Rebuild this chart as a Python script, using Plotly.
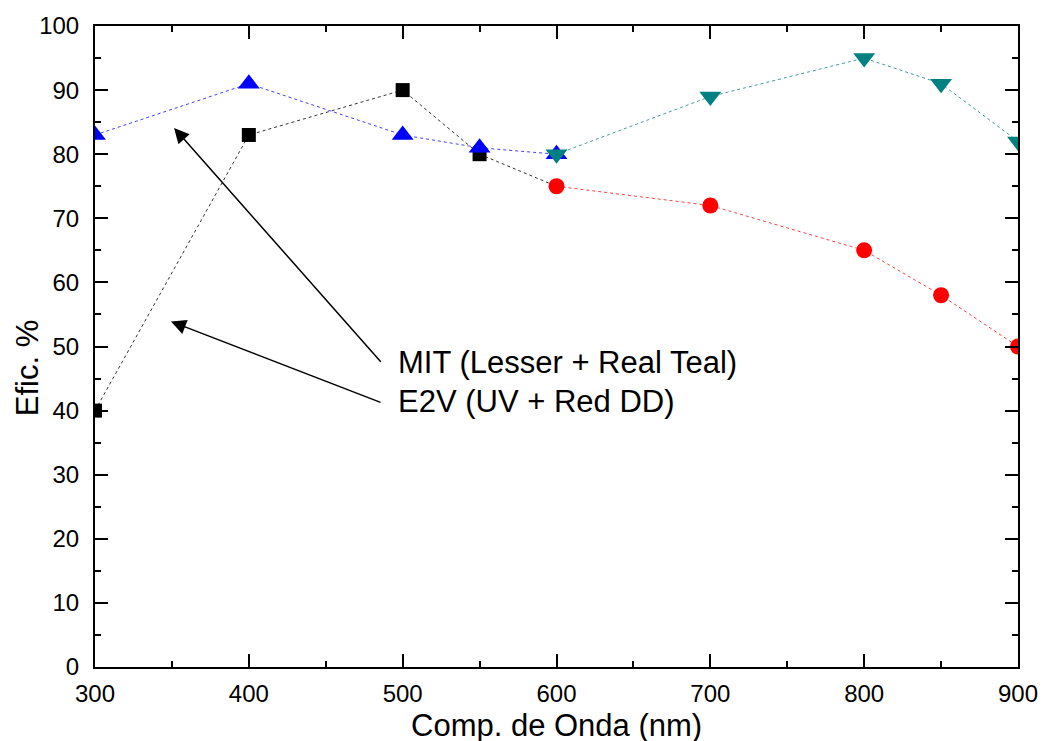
import plotly.graph_objects as go

# Data
e2v_uv_x = [300, 400, 500, 550, 600]
e2v_uv_y = [40, 83, 90, 80, 75]
e2v_red_x = [600, 700, 800, 850, 900]
e2v_red_y = [75, 72, 65, 58, 50]
mit_lesser_x = [300, 400, 500, 550, 600]
mit_lesser_y = [83, 91, 83, 81, 80]
mit_teal_x = [600, 700, 800, 850, 900]
mit_teal_y = [80, 89, 95, 91, 82]

x_ticks = [300, 400, 500, 600, 700, 800, 900]
y_ticks = [0, 10, 20, 30, 40, 50, 60, 70, 80, 90, 100]

label_mit = "MIT (Lesser + Real Teal)"
label_e2v = "E2V (UV + Red DD)"

FONT = "Liberation Sans, Arial, sans-serif"
DASH = "3px,3px"

fig = go.Figure()

# black dashed line through all points; square markers on all but the last (hidden under red circle)
fig.add_trace(go.Scatter(x=e2v_uv_x, y=e2v_uv_y, mode="lines",
                         line=dict(color="#333333", width=1, dash=DASH),
                         showlegend=False, hoverinfo="skip"))
fig.add_trace(go.Scatter(x=e2v_uv_x[:-1], y=e2v_uv_y[:-1], mode="markers",
                         marker=dict(symbol="square", size=14, color="#000000",
                                     line=dict(width=0)),
                         showlegend=False))
fig.add_trace(go.Scatter(x=e2v_red_x, y=e2v_red_y, mode="lines+markers",
                         line=dict(color="#ff4040", width=1, dash=DASH),
                         marker=dict(symbol="circle", size=16, color="#ff0000",
                                     line=dict(width=0)),
                         showlegend=False))
fig.add_trace(go.Scatter(x=mit_lesser_x, y=mit_lesser_y, mode="lines+markers",
                         line=dict(color="#4040ff", width=1, dash=DASH),
                         marker=dict(symbol="triangle-up", size=19, color="#0000ff",
                                     line=dict(width=0)),
                         showlegend=False))
fig.add_trace(go.Scatter(x=mit_teal_x, y=mit_teal_y, mode="lines+markers",
                         line=dict(color="#40a0a0", width=1, dash=DASH),
                         marker=dict(symbol="triangle-down", size=19, color="#008080",
                                     line=dict(width=0)),
                         showlegend=False))

axis_common = dict(
    showline=True, linecolor="black", linewidth=2, mirror="ticks",
    ticks="inside", ticklen=13, tickwidth=2, tickcolor="black",
    showgrid=False, zeroline=False,
    tickfont=dict(family=FONT, size=24, color="black"),
)

fig.update_xaxes(range=[300, 900], tickvals=x_ticks, ticklabelstandoff=4,
                 minor=dict(ticks="inside", ticklen=6, tickwidth=2, tickcolor="black", dtick=50),
                 **axis_common)
fig.update_yaxes(range=[0, 100], tickvals=y_ticks, ticklabelstandoff=9,
                 minor=dict(ticks="inside", ticklen=6, tickwidth=2, tickcolor="black", dtick=5),
                 **axis_common)

annotations = [
    # arrows
    dict(x=351.4, y=84.1, ax=486.6, ay=47.4, xref="x", yref="y", axref="x", ayref="y",
         text="", showarrow=True, arrowhead=2, arrowsize=2, arrowwidth=1.5,
         arrowcolor="black", standoff=0, startstandoff=0),
    dict(x=349.4, y=53.9, ax=486.6, ay=41.2, xref="x", yref="y", axref="x", ayref="y",
         text="", showarrow=True, arrowhead=2, arrowsize=2, arrowwidth=1.5,
         arrowcolor="black", standoff=0, startstandoff=0),
    # labels
    dict(x=495.5, y=47.5, xref="x", yref="y", text=label_mit, showarrow=False,
         xanchor="left", yanchor="middle", font=dict(family=FONT, size=31, color="black")),
    dict(x=495.5, y=41.4, xref="x", yref="y", text=label_e2v, showarrow=False,
         xanchor="left", yanchor="middle", font=dict(family=FONT, size=31, color="black")),
    # axis titles
    dict(x=0.5, y=-0.092, xref="paper", yref="paper", text="Comp. de Onda (nm)",
         showarrow=False, xanchor="center", yanchor="middle",
         font=dict(family=FONT, size=31, color="black")),
    dict(x=-0.0737, y=0.466, xref="paper", yref="paper", text="Efic. %", textangle=-90,
         showarrow=False, xanchor="center", yanchor="middle",
         font=dict(family=FONT, size=31, color="black")),
]

fig.update_layout(
    width=1050, height=741,
    margin=dict(l=95, r=32, t=21, b=74),
    plot_bgcolor="white", paper_bgcolor="white",
    annotations=annotations,
    showlegend=False,
)

fig.write_html("out.html")
